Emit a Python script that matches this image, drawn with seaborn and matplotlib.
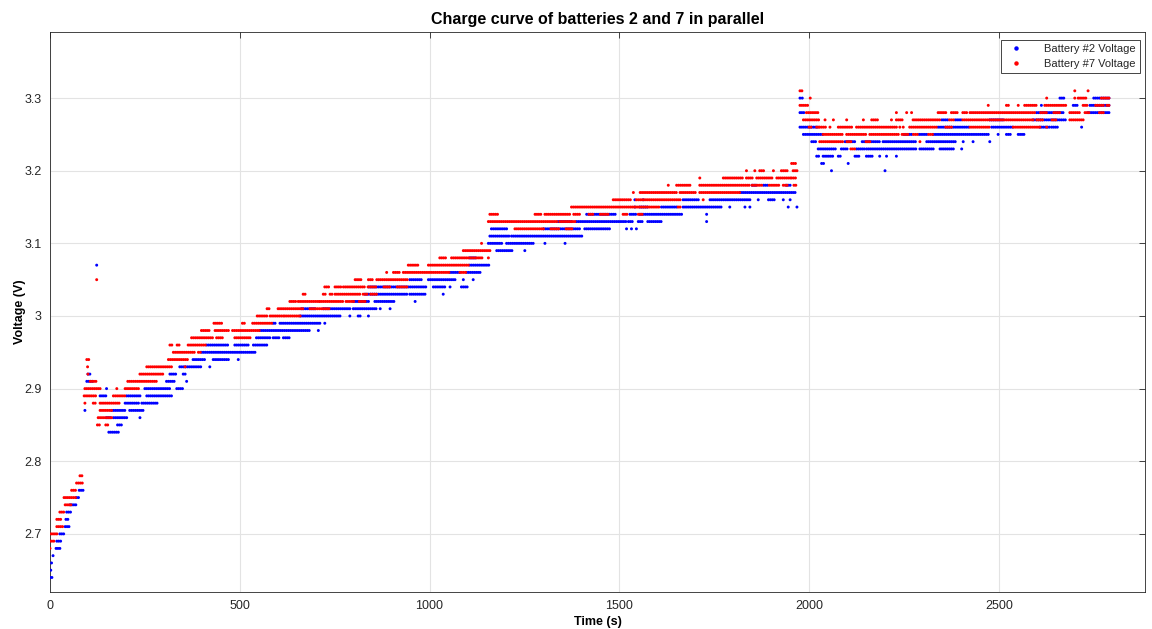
import numpy as np
import pandas as pd
import matplotlib
matplotlib.use("Agg")
import matplotlib.pyplot as plt
from matplotlib.lines import Line2D
import seaborn as sns

SAMPLE_STEP = 5  # seconds between logged readings inside a run

B2_RUNS = [
    (264, 0, 6), (265, 2, 2), (266, 4, 4), (267, 8, 12), (268, 16, 28), (269, 18, 30),
    (270, 26, 37), (271, 40, 51), (272, 42, 50), (273, 44, 55), (274, 53, 68),
    (275, 70, 79), (276, 77, 88),
    (307, 123, 123),
    (287, 92, 92), (291, 97, 114), (292, 100, 105), (289, 132, 149), (290, 149, 149),
    (286, 149, 162), (284, 155, 180), (286, 167, 202), (285, 178, 189), (287, 162, 200),
    (287, 210, 246), (289, 202, 237), (288, 198, 237), (286, 237, 237), (288, 242, 285),
    (289, 255, 320), (290, 250, 316), (291, 307, 329), (290, 334, 351),
    (292, 316, 334), (292, 351, 356), (291, 360, 360), (293, 342, 400), (293, 421, 421),
    (294, 377, 408), (294, 430, 474), (294, 496, 496), (295, 400, 540), (296, 413, 470),
    (296, 487, 522), (296, 536, 575), (297, 544, 579), (297, 588, 606), (297, 615, 632),
    (298, 553, 588), (298, 593, 685), (298, 707, 707), (299, 588, 597), (299, 606, 711),
    (299, 724, 724), (300, 659, 764), (301, 663, 702),
    (300, 790, 790), (300, 812, 821), (300, 839, 839), (301, 720, 751), (301, 755, 790),
    (301, 799, 861), (301, 870, 870), (301, 896, 896), (302, 799, 843), (302, 856, 909),
    (302, 962, 962), (303, 830, 940), (303, 948, 992), (303, 1036, 1036), (304, 840, 992),
    (304, 1010, 1041), (304, 1054, 1054), (304, 1084, 1102), (305, 948, 979),
    (305, 997, 1071), (305, 1089, 1089), (305, 1115, 1115), (306, 1054, 1080),
    (306, 1098, 1133), (307, 1106, 1159), (308, 1106, 1124),
    (309, 1177, 1221), (309, 1251, 1251), (310, 1155, 1194), (310, 1203, 1273),
    (310, 1304, 1304), (310, 1357, 1357), (311, 1159, 1212), (311, 1216, 1322),
    (311, 1326, 1405), (312, 1163, 1203), (312, 1300, 1396), (312, 1409, 1475),
    (312, 1519, 1519), (312, 1532, 1532), (312, 1545, 1545), (313, 1339, 1378),
    (313, 1387, 1519), (313, 1524, 1535), (313, 1550, 1560), (313, 1575, 1610),
    (313, 1730, 1730), (314, 1414, 1493), (314, 1528, 1545), (315, 1541, 1541),
    (316, 1541, 1541), (316, 1563, 1563),
    (314, 1554, 1664), (314, 1730, 1730), (315, 1554, 1576), (315, 1611, 1651),
    (315, 1668, 1770), (315, 1791, 1791), (315, 1831, 1831), (315, 1844, 1844),
    (315, 1945, 1945), (315, 1968, 1968), (316, 1668, 1712), (316, 1739, 1844),
    (316, 1866, 1866), (316, 1893, 1910), (316, 1932, 1932), (316, 1950, 1950),
    (317, 1818, 1967), (318, 1850, 1860), (318, 1880, 1890), (318, 1940, 1950),
    (330, 1976, 1976), (330, 1982, 1982), (328, 1976, 1989), (326, 1976, 2024),
    (325, 1985, 2037), (324, 2007, 2020), (323, 2024, 2072), (322, 2020, 2028),
    (322, 2037, 2064), (322, 2077, 2086), (322, 2121, 2134), (322, 2151, 2169),
    (322, 2186, 2186), (322, 2204, 2204), (322, 2230, 2230), (321, 2033, 2042),
    (321, 2103, 2103), (320, 2059, 2059), (320, 2200, 2200),
    (324, 2095, 2120), (324, 2140, 2186), (324, 2195, 2283), (324, 2310, 2389),
    (324, 2406, 2406), (324, 2432, 2432), (324, 2476, 2476),
    (323, 2085, 2100), (323, 2125, 2145), (323, 2151, 2283), (323, 2292, 2327),
    (323, 2345, 2380), (323, 2402, 2402),
    (325, 2250, 2270), (325, 2290, 2310), (325, 2327, 2472), (325, 2498, 2498),
    (325, 2520, 2533), (325, 2551, 2568),
    (326, 2340, 2420), (326, 2481, 2538), (326, 2608, 2634), (326, 2639, 2656),
    (326, 2718, 2718),
    (327, 2350, 2365), (327, 2385, 2400), (327, 2476, 2511), (327, 2590, 2678),
    (328, 2599, 2669), (328, 2735, 2792), (329, 2612, 2612), (329, 2696, 2709),
    (329, 2740, 2792), (330, 2661, 2674), (330, 2750, 2792),
]

B7_RUNS = [
    (268, 0, 0), (269, 0, 10), (270, 3, 18), (271, 18, 35), (272, 18, 31), (273, 26, 40),
    (274, 40, 57), (275, 37, 68), (276, 57, 70), (277, 70, 86), (278, 79, 86),
    (305, 123, 123),
    (294, 97, 104), (293, 99, 99), (292, 100, 103), (291, 106, 123), (290, 92, 132),
    (289, 90, 123), (288, 92, 92), (288, 114, 123), (288, 132, 184), (287, 132, 162),
    (286, 127, 162), (285, 125, 130), (285, 147, 154), (290, 176, 176), (289, 167, 198),
    (290, 198, 237), (291, 205, 281), (292, 237, 300), (293, 255, 320), (294, 312, 364),
    (293, 356, 356), (295, 325, 382), (295, 391, 400), (296, 316, 325), (296, 335, 340),
    (296, 364, 413), (297, 373, 408), (297, 413, 430), (297, 439, 457), (297, 487, 531),
    (298, 399, 421), (298, 435, 474), (298, 481, 553), (299, 432, 452), (299, 507, 514),
    (299, 534, 588), (300, 546, 571), (300, 580, 615), (300, 619, 663), (301, 572, 578),
    (301, 601, 667), (302, 632, 650), (302, 654, 711), (303, 667, 676),
    (301, 685, 738), (302, 711, 773), (302, 780, 800), (302, 815, 834), (303, 720, 729),
    (303, 738, 746), (303, 751, 817), (303, 825, 835), (303, 845, 861), (304, 724, 738),
    (304, 751, 768), (304, 773, 830), (304, 838, 860), (304, 880, 895), (304, 915, 940),
    (305, 804, 821), (305, 839, 852), (305, 861, 945), (306, 887, 887), (306, 905, 922),
    (306, 931, 1054), (306, 1080, 1098), (307, 944, 970), (307, 997, 1106),
    (308, 1027, 1045), (308, 1058, 1141), (308, 1155, 1155), (309, 1089, 1159),
    (310, 1137, 1137), (312, 1225, 1300), (312, 1320, 1340), (312, 1360, 1375),
    (313, 1155, 1335), (313, 1343, 1387), (314, 1159, 1181), (314, 1278, 1295),
    (314, 1304, 1370), (314, 1380, 1395), (314, 1420, 1430), (314, 1450, 1470),
    (314, 1510, 1520), (314, 1550, 1560), (315, 1374, 1607), (315, 1655, 1664),
    (316, 1484, 1530), (316, 1545, 1660), (317, 1537, 1537), (317, 1555, 1651),
    (316, 1721, 1721), (317, 1660, 1704), (317, 1712, 1818), (318, 1629, 1629),
    (318, 1651, 1686), (318, 1712, 1844), (318, 1850, 1875), (318, 1895, 1923),
    (318, 1932, 1945), (318, 1960, 1967), (319, 1712, 1712), (319, 1774, 1827),
    (319, 1835, 1853), (319, 1862, 1906), (319, 1915, 1950), (319, 1954, 1967),
    (320, 1835, 1835), (320, 1857, 1857), (320, 1870, 1884), (320, 1906, 1906),
    (320, 1927, 1945), (320, 1958, 1971), (321, 1954, 1967),
    (331, 1976, 1985), (330, 2003, 2003), (329, 1976, 1998), (328, 1993, 2024),
    (327, 1985, 2028), (326, 2000, 2008), (326, 2020, 2028),
    (328, 2230, 2230), (328, 2257, 2257), (328, 2270, 2270), (328, 2340, 2362),
    (328, 2375, 2390), (328, 2405, 2415), (328, 2424, 2595), (328, 2610, 2625),
    (328, 2645, 2660), (328, 2687, 2714), (328, 2727, 2740), (328, 2765, 2775),
    (327, 2042, 2042), (327, 2064, 2064), (327, 2099, 2099), (327, 2143, 2143),
    (327, 2165, 2182), (327, 2217, 2217), (327, 2230, 2248), (327, 2274, 2345),
    (327, 2370, 2380), (327, 2405, 2590), (327, 2600, 2615), (327, 2640, 2650),
    (327, 2687, 2722),
    (326, 2028, 2046), (326, 2055, 2055), (326, 2077, 2116), (326, 2125, 2160),
    (326, 2165, 2230), (326, 2239, 2239), (326, 2248, 2248), (326, 2265, 2335),
    (326, 2360, 2375), (326, 2424, 2476), (326, 2538, 2608), (326, 2626, 2626),
    (325, 2037, 2090), (325, 2099, 2151), (325, 2160, 2239), (325, 2245, 2260),
    (325, 2275, 2285), (325, 2315, 2325),
    (324, 2028, 2090), (324, 2100, 2110), (324, 2150, 2160), (324, 2292, 2292),
    (323, 2110, 2120),
    (329, 2472, 2472), (329, 2520, 2529), (329, 2551, 2551), (329, 2568, 2599),
    (329, 2621, 2678), (329, 2722, 2735), (329, 2755, 2775), (329, 2785, 2792),
    (330, 2626, 2626), (330, 2700, 2700), (330, 2709, 2730), (330, 2770, 2792),
    (331, 2700, 2700), (331, 2735, 2735),
]

SERIES = ["Battery #2 Voltage", "Battery #7 Voltage"]
COLORS = ["#0000ff", "#ff0000"]
X_TICKS = [0, 500, 1000, 1500, 2000, 2500]
Y_TICKS = [2.7, 2.8, 2.9, 3.0, 3.1, 3.2, 3.3]
Y_TICK_LABELS = ["2.7", "2.8", "2.9", "3", "3.1", "3.2", "3.3"]
TITLE = "Charge curve of batteries 2 and 7 in parallel"
X_LABEL = "Time (s)"
Y_LABEL = "Voltage (V)"


def expand(runs, name):
    rows = []
    for level, t0, t1 in runs:
        for t in np.arange(t0, t1 + 0.5, SAMPLE_STEP):
            rows.append((float(t), level / 100.0, name))
    return rows


df = pd.DataFrame(expand(B2_RUNS, SERIES[0]) + expand(B7_RUNS, SERIES[1]),
                  columns=["time", "voltage", "series"])

sns.set_style("white")
plt.rcParams["font.family"] = ["Liberation Sans", "DejaVu Sans"]

fig = plt.figure(figsize=(11.52, 6.29), dpi=100)
ax = fig.add_axes([50 / 1152, 37 / 629, 1095 / 1152, 560 / 629])

sns.scatterplot(data=df, x="time", y="voltage", hue="series", hue_order=SERIES,
                palette=dict(zip(SERIES, COLORS)), s=4.5, linewidth=0, marker="o",
                ax=ax, legend=False, zorder=3)

ax.set_xlim(0, 2885)
ax.set_ylim(2.62, 3.391)
ax.set_xticks(X_TICKS)
ax.set_xticklabels([str(v) for v in X_TICKS])
ax.set_yticks(Y_TICKS)
ax.set_yticklabels(Y_TICK_LABELS)
ax.grid(True, color="#e3e3e3", linewidth=0.8, zorder=0)
ax.set_axisbelow(True)
ax.tick_params(direction="in", top=True, right=True, length=4, width=0.6,
               colors="#262626", labelsize=9, pad=6)
for sp in ax.spines.values():
    sp.set_color("#262626")
    sp.set_linewidth(0.6)

ax.set_title(TITLE, fontsize=11.5, fontweight="bold", color="black", pad=6)
ax.set_xlabel(X_LABEL, fontsize=9, fontweight="bold", color="black", labelpad=3)
ax.set_ylabel(Y_LABEL, fontsize=9, fontweight="bold", color="black", labelpad=-1)

handles = [Line2D([], [], linestyle="none", marker="o", markersize=2.2,
                  markerfacecolor=c, markeredgecolor=c) for c in COLORS]
leg = ax.legend(handles, SERIES, loc="upper right",
                bbox_to_anchor=((1140 - 50) / 1095, (592 - 40) / 560),
                borderaxespad=0, fontsize=8, frameon=True,
                fancybox=False, edgecolor="#262626", framealpha=1,
                borderpad=0.35, handletextpad=1.6, handlelength=2.0,
                labelspacing=0.44)
leg.get_frame().set_linewidth(0.6)

fig.savefig("out.png", dpi=100)
